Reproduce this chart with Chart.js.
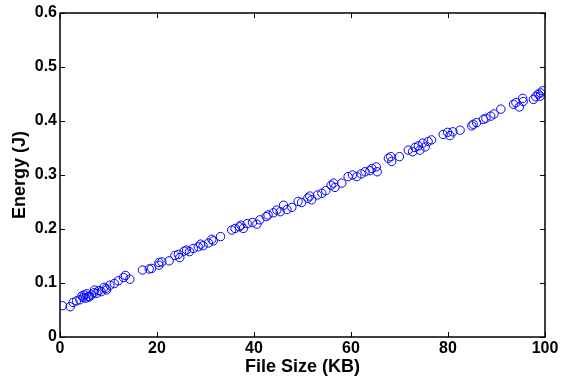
<!DOCTYPE html>
<html>
<head>
<meta charset="utf-8">
<script src="https://cdn.jsdelivr.net/npm/chart.js@4"></script>
<style>
  html, body { margin: 0; padding: 0; background: #fff; }
  #wrap { width: 563px; height: 379px; }
</style>
</head>
<body>
<div id="wrap"><canvas id="chart"></canvas></div>
<script>
const fileSizes = [
  0.5, 2.1, 2.7, 3.4, 4.1, 4.5, 4.8, 5.0, 5.3, 5.5, 5.8, 6.0, 6.5, 7.0, 7.1, 7.6, 8.0, 8.5, 9.1, 9.5, 9.6,
  10.3, 11.2, 12.0, 13.1, 13.5, 14.4, 17.0, 18.4, 18.9, 20.4, 20.4,
  21.0, 22.5, 23.7, 24.4, 24.7, 25.6, 26.1, 26.7, 27.5, 28.5, 29.0, 29.5, 30.6, 31.3, 31.6, 33.1,
  35.4, 36.1, 37.0, 37.3, 37.8, 38.6, 39.7, 40.6, 41.2, 42.5,
  42.9, 44.0, 44.7, 45.4, 46.1, 46.8, 47.8, 49.1, 49.8, 51.1, 51.5, 51.9, 53.1, 54.0, 54.8,
  55.9, 56.4, 56.7, 58.1, 59.4, 60.3, 61.2, 62.1, 62.9, 63.9,
  64.3, 65.2, 65.4, 67.7, 68.2, 68.4, 70.0, 71.8, 72.7, 73.2, 73.9, 74.2, 74.8, 75.3, 75.9, 76.6,
  79.0, 79.9, 80.4, 81.0, 82.5, 84.9,
  85.2, 85.9, 87.3, 87.8, 88.8, 89.5, 90.9, 93.5, 94.0, 94.7, 95.4, 95.5, 97.6, 98.1, 98.6, 99.0, 99.1, 99.5
];
const energies = [
  0.058, 0.056, 0.064, 0.067, 0.069, 0.076, 0.073, 0.078, 0.072, 0.080, 0.075, 0.074, 0.078, 0.082, 0.087, 0.081, 0.086, 0.084, 0.092, 0.090, 0.087,
  0.096, 0.099, 0.104, 0.110, 0.114, 0.107, 0.124, 0.126, 0.127, 0.133, 0.138,
  0.139, 0.141, 0.151, 0.153, 0.147, 0.159, 0.161, 0.158, 0.164, 0.167, 0.172, 0.169, 0.174, 0.181, 0.178, 0.186,
  0.198, 0.201, 0.204, 0.207, 0.201, 0.210, 0.212, 0.209, 0.217, 0.223,
  0.226, 0.230, 0.235, 0.232, 0.244, 0.236, 0.240, 0.251, 0.249, 0.257, 0.261, 0.254, 0.263, 0.266, 0.271,
  0.281, 0.285, 0.277, 0.285, 0.297, 0.300, 0.297, 0.302, 0.306, 0.308,
  0.312, 0.315, 0.306, 0.331, 0.334, 0.325, 0.334, 0.346, 0.343, 0.351, 0.354, 0.346, 0.359, 0.352, 0.362, 0.365,
  0.375, 0.379, 0.373, 0.380, 0.383, 0.391,
  0.394, 0.397, 0.403, 0.405, 0.409, 0.413, 0.422, 0.431, 0.434, 0.426, 0.442, 0.436, 0.440, 0.445, 0.450, 0.446, 0.452, 0.456
];
const xTicks = [0, 20, 40, 60, 80, 100];
const yTicks = [0, 0.1, 0.2, 0.3, 0.4, 0.5, 0.6];

const points = fileSizes.map((x, i) => ({ x: x, y: energies[i] }));

// matlab style box with inward ticks on all four sides
const boxPlugin = {
    id: 'box',
    afterDatasetsDraw(chart) {
        const { ctx, chartArea: a, scales } = chart;
        const len = 5;
        ctx.save();
        ctx.strokeStyle = '#000';
        ctx.lineWidth = 1.5;
        ctx.strokeRect(a.left, a.top, a.right - a.left, a.bottom - a.top);
        ctx.lineWidth = 1;
        ctx.beginPath();
        xTicks.forEach(v => {
            const px = Math.round(scales.x.getPixelForValue(v)) + 0.5;
            ctx.moveTo(px, a.bottom); ctx.lineTo(px, a.bottom - len);
            ctx.moveTo(px, a.top); ctx.lineTo(px, a.top + len);
        });
        yTicks.forEach(v => {
            const py = Math.round(scales.y.getPixelForValue(v)) + 0.5;
            ctx.moveTo(a.left, py); ctx.lineTo(a.left + len, py);
            ctx.moveTo(a.right, py); ctx.lineTo(a.right - len, py);
        });
        ctx.stroke();
        ctx.restore();
    }
};

const tickFont = { family: 'Liberation Sans, Arial, sans-serif', size: 16, weight: 'bold' };
const titleFont = { family: 'Liberation Sans, Arial, sans-serif', size: 18, weight: 'bold' };

new Chart(document.getElementById('chart'), {
    type: 'scatter',
    data: {
        datasets: [{
            data: points,
            borderColor: '#0000ff',
            backgroundColor: 'rgba(0,0,0,0)',
            borderWidth: 1,
            pointRadius: 4.2,
            pointStyle: 'circle'
        }]
    },
    options: {
        responsive: true,
        maintainAspectRatio: false,
        animation: false,
        layout: { padding: { top: 13, right: 18, left: 0, bottom: 0 } },
        plugins: { legend: { display: false }, tooltip: { enabled: false } },
        scales: {
            x: {
                type: 'linear', min: 0, max: 100,
                afterFit: s => { s.height = 42; },
                afterBuildTicks: s => { s.ticks = xTicks.map(v => ({ value: v })); },
                grid: { display: false, drawTicks: false },
                border: { display: false },
                ticks: { color: '#000', font: tickFont, padding: 2, maxRotation: 0 },
                title: { display: true, text: 'File Size (KB)', color: '#000', font: titleFont, padding: { top: 0, bottom: 1 } }
            },
            y: {
                type: 'linear', min: 0, max: 0.6,
                afterFit: s => { s.width = 60; },
                afterBuildTicks: s => { s.ticks = yTicks.map(v => ({ value: v })); },
                grid: { display: false, drawTicks: false },
                border: { display: false },
                ticks: { color: '#000', font: tickFont, padding: 3 },
                title: { display: true, text: 'Energy (J)', color: '#000', font: titleFont, padding: { top: 9, bottom: 0 } }
            }
        }
    },
    plugins: [boxPlugin]
});
</script>
</body>
</html>
